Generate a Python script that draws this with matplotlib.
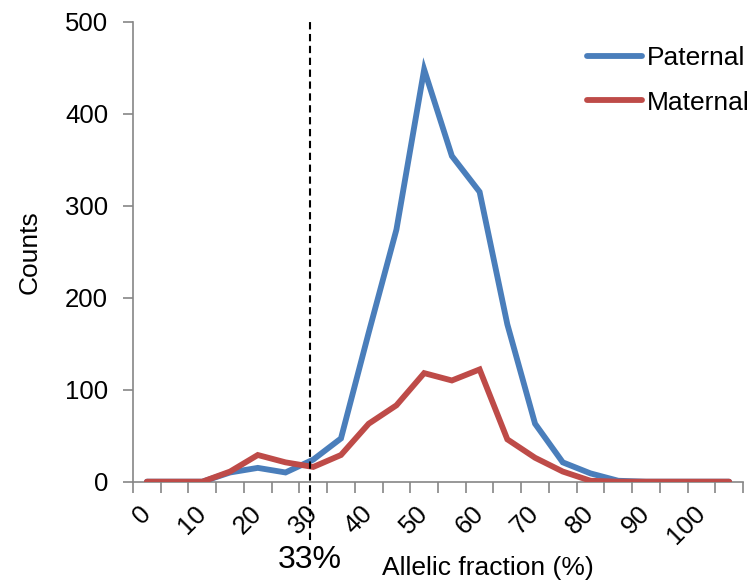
import matplotlib
matplotlib.use("Agg")
import matplotlib.pyplot as plt
import numpy as np

plt.rcParams['font.family'] = ['Liberation Sans', 'DejaVu Sans']

# 22 category bins on the x axis; labels shown every other bin
categories = list(range(22))
tick_labels = ['0', '10', '20', '30', '40', '50', '60', '70', '80', '90', '100']
paternal = [0, 0, 0, 10, 15, 10, 24, 47, 162, 274, 448, 354, 315, 171, 63, 21, 9, 1, 0, 0, 0, 0]
maternal = [0, 0, 0, 11, 29, 21, 16, 29, 63, 83, 118, 110, 122, 46, 26, 11, 1, 0, 0, 0, 0, 0]
threshold_pos = 5.89  # category position of the 33% line
threshold_label = '33%'

fig = plt.figure(figsize=(7.49, 5.83), dpi=100)
ax = fig.add_axes([0.1776, 0.1738, 0.8144, 0.789])

FS = 18.5
FL = 19
blue = '#4A7EBB'
red = '#BE4B48'
x = np.array(categories)
ax.plot(x, paternal, color=blue, lw=4.2, label='Paternal', solid_joinstyle='miter',
        solid_capstyle='round', zorder=3)
ax.plot(x, maternal, color=red, lw=4.2, label='Maternal', solid_joinstyle='miter',
        solid_capstyle='round', zorder=4)

ax.set_xlim(-0.5, 21.5)
ax.set_ylim(0, 500)

gray = '#868686'
for s in ['top', 'right']:
    ax.spines[s].set_visible(False)
for s in ['left', 'bottom']:
    ax.spines[s].set_color(gray)
    ax.spines[s].set_linewidth(1.2)

ax.set_yticks([0, 100, 200, 300, 400, 500])
ax.tick_params(axis='y', direction='out', length=7, width=1.2, color=gray, labelsize=FS, pad=11)

ax.set_xticks(x[::2][:len(tick_labels)])
ax.set_xticklabels(tick_labels, rotation=45, ha='right', va='center', rotation_mode='anchor')
ax.set_xticks(np.arange(-0.5, 22, 1.0), minor=True)
ax.tick_params(axis='x', which='major', length=0, labelsize=FS, pad=20)
ax.tick_params(axis='x', which='minor', direction='out', length=8, width=1.2, color=gray)

ax.set_ylabel('Counts', fontsize=FL, labelpad=17)

# dashed threshold line extending below the axis
ax.plot([threshold_pos, threshold_pos], [-63, 500], color='black', lw=1.5, ls=(0, (3.5, 2.2)),
        clip_on=False, zorder=5)
ax.text(threshold_pos, -85, threshold_label, fontsize=23, ha='center', va='center', clip_on=False)
ax.text(12.3, -94, 'Allelic fraction (%)', fontsize=FL, ha='center', va='center')

leg = ax.legend(loc='upper left', bbox_to_anchor=(0.769, 0.939), bbox_transform=fig.transFigure,
                frameon=False, fontsize=FL, handlelength=2.1, handletextpad=0.2, labelspacing=0.78,
                borderaxespad=0)

fig.savefig('out.png', dpi=100)
